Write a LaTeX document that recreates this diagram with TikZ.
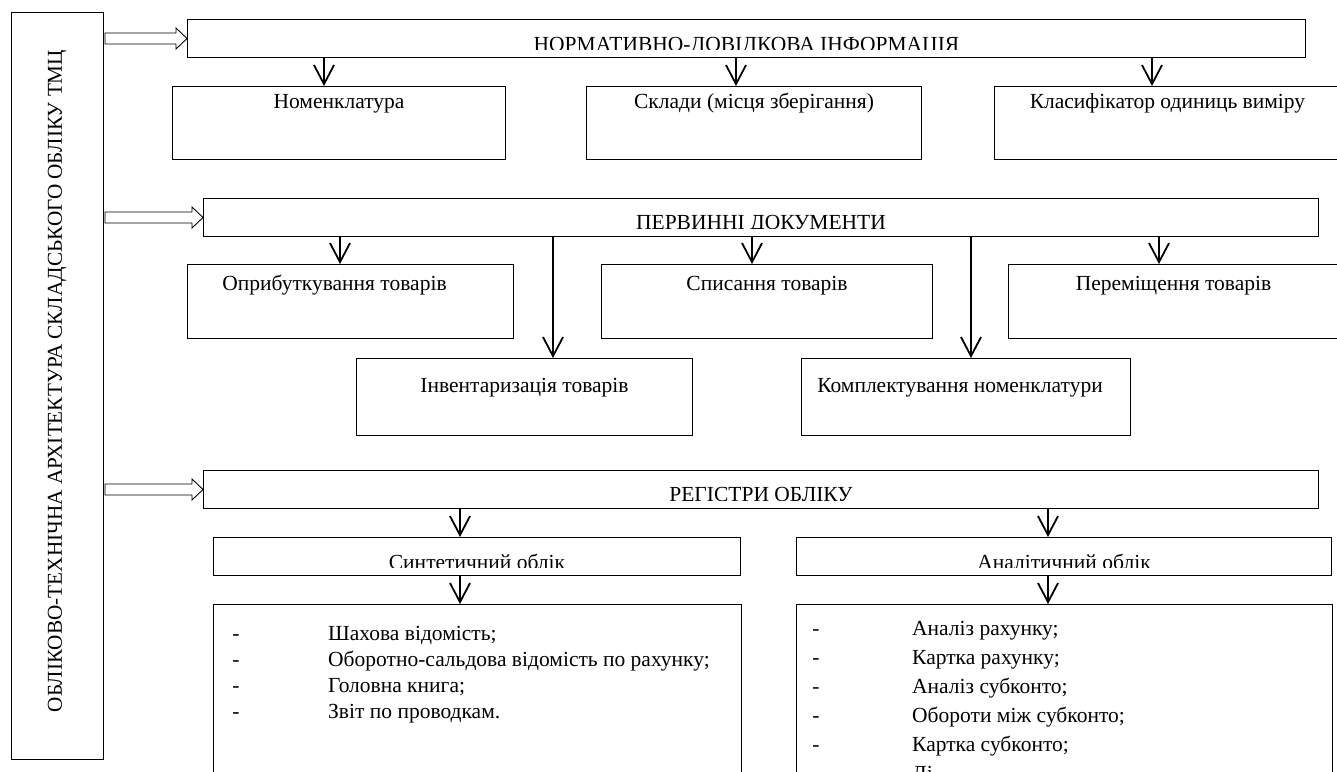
\documentclass[tikz,border=0pt]{standalone}
\usepackage{fontspec}
\setmainfont{Liberation Serif}
\usetikzlibrary{arrows.meta,calc}
\newcommand\hollowarr[2]{%
  \draw[line width=0.9pt,fill=white] let \p1=(#1), \p2=(#2) in
  (\x1,\y1+5.5pt) -- (\x2-11pt,\y1+5.5pt) -- (\x2-11pt,\y1+10.5pt) -- (\x2,\y1)
  -- (\x2-11pt,\y1-10.5pt) -- (\x2-11pt,\y1-5.5pt) -- (\x1,\y1-5.5pt) -- cycle;}
\begin{document}
\begin{tikzpicture}[x=1pt,y=-1pt,
  box/.style={draw=black,line width=1pt,inner sep=0pt,anchor=north west},
  txt/.style={font=\fontsize{21.5}{25}\selectfont,inner sep=0pt},
  arr/.style={line width=1.8pt,-{Straight Barb[length=19pt,width=20pt,line width=1.8pt]}},
]
\clip (0,0) rectangle (1337,771);
\fill[white] (0,0) rectangle (1337,771);

% left vertical box
\node[box,minimum width=92pt,minimum height=747pt] (left) at (11,12) {};
\node[txt,font=\fontsize{21.2}{25}\selectfont,rotate=90] (leftT) at (57,381) {ОБЛІКОВО-ТЕХНІЧНА АРХІТЕКТУРА СКЛАДСЬКОГО ОБЛІКУ ТМЦ};

% header boxes
\node[box,minimum width=1118pt,minimum height=38pt] (norm) at (187,19) {};
\node[box,minimum width=1115pt,minimum height=38pt] (perv) at (203,198) {};
\node[box,minimum width=1115pt,minimum height=38pt] (reg) at (203,470) {};

\begin{scope}
\clip (norm.north west) rectangle ($(norm.south east)+(0,-9)$);
\node[txt,anchor=base] (normT) at ($(norm.north)+(0,32)$) {НОРМАТИВНО-ДОВІДКОВА ІНФОРМАЦІЯ};
\end{scope}
\begin{scope}
\clip (perv.north west) rectangle ($(perv.south east)+(0,-9)$);
\node[txt,anchor=base] (pervT) at ($(perv.north)+(0,31)$) {ПЕРВИННІ ДОКУМЕНТИ};
\end{scope}
\begin{scope}
\clip (reg.north west) rectangle ($(reg.south east)+(0,-9)$);
\node[txt,anchor=base] (regT) at ($(reg.north)+(0,31)$) {РЕГІСТРИ ОБЛІКУ};
\end{scope}

% hollow arrows
\coordinate (hs1) at ($(left.east|-norm.west)+(1,0)$);
\coordinate (hs2) at ($(left.east|-perv.west)+(1,0)$);
\coordinate (hs3) at ($(left.east|-reg.west)+(1,0)$);
\hollowarr{hs1}{norm.west}
\hollowarr{hs2}{perv.west}
\hollowarr{hs3}{reg.west}

% row 1
\node[box,minimum width=333pt,minimum height=73pt] (nom) at (172,86) {};
\node[box,minimum width=335pt,minimum height=73pt] (skl) at (586,86) {};
\node[box,minimum width=346pt,minimum height=73pt] (kls) at (994,86) {};
\node[txt,anchor=base] (nomT) at ($(nom.north)+(0,22)$) {Номенклатура};
\node[txt,anchor=base] (sklT) at ($(skl.north)+(0,22)$) {Склади (місця зберігання)};
\node[txt,anchor=base] (klsT) at ($(kls.north)+(0,22)$) {Класифікатор одиниць виміру};

\coordinate (a1) at (324,0);
\coordinate (a2) at (736,0);
\coordinate (a3) at (1152,0);
\draw[arr] (norm.south-|a1) -- (nom.north-|a1);
\draw[arr] (norm.south-|a2) -- (skl.north-|a2);
\draw[arr] (norm.south-|a3) -- (kls.north-|a3);

% row 2
\node[box,minimum width=326pt,minimum height=74pt] (opr) at (187,264) {};
\node[box,minimum width=331pt,minimum height=74pt] (spy) at (601,264) {};
\node[box,minimum width=330pt,minimum height=74pt] (per) at (1008,264) {};
\node[txt,anchor=base] (oprT) at ($(opr.north)+(-16,26)$) {Оприбуткування товарів};
\node[txt,anchor=base] (spyT) at ($(spy.north)+(0,26)$) {Списання товарів};
\node[txt,anchor=base] (perT) at ($(per.north)+(0,26)$) {Переміщення товарів};

% row 3
\node[box,minimum width=336pt,minimum height=77pt] (inv) at (356,358) {};
\node[box,minimum width=329pt,minimum height=77pt] (kom) at (801,358) {};
\node[txt,anchor=base] (invT) at ($(inv.north)+(0,34)$) {Інвентаризація товарів};
\node[txt,anchor=base] (komT) at ($(kom.north)+(-6,34)$) {Комплектування номенклатури};

\coordinate (b1) at (340,0);
\coordinate (b2) at (553,0);
\coordinate (b3) at (752,0);
\coordinate (b4) at (971,0);
\coordinate (b5) at (1159,0);
\draw[arr] (perv.south-|b1) -- (opr.north-|b1);
\draw[arr] (perv.south-|b2) -- (inv.north-|b2);
\draw[arr] (perv.south-|b3) -- (spy.north-|b3);
\draw[arr] (perv.south-|b4) -- (kom.north-|b4);
\draw[arr] (perv.south-|b5) -- (per.north-|b5);

% registers
\node[box,minimum width=527pt,minimum height=38pt] (syn) at (213,537) {};
\node[box,minimum width=535pt,minimum height=38pt] (ana) at (796,537) {};
\begin{scope}
\clip (syn.north west) rectangle ($(syn.south east)+(0,-9)$);
\node[txt,anchor=base] (synT) at ($(syn.north)+(0,32)$) {Синтетичний облік};
\end{scope}
\begin{scope}
\clip (ana.north west) rectangle ($(ana.south east)+(0,-9)$);
\node[txt,anchor=base] (anaT) at ($(ana.north)+(0,32)$) {Аналітичний облік};
\end{scope}

\node[box,minimum width=528pt,minimum height=200pt] (synl) at (213,604) {};
\node[box,minimum width=536pt,minimum height=200pt] (anal) at (796,604) {};

\coordinate (c1) at (460,0);
\coordinate (c2) at (1048,0);
\draw[arr] (reg.south-|c1) -- (syn.north-|c1);
\draw[arr] (reg.south-|c2) -- (ana.north-|c2);
\draw[arr] (syn.south-|c1) -- (synl.north-|c1);
\draw[arr] (ana.south-|c2) -- (anal.north-|c2);

% synthetic list
\foreach \y/\t [count=\i] in {640/Шахова відомість;, 666/Оборотно-сальдова відомість по рахунку;, 692/Головна книга;, 718/Звіт по проводкам.}{
  \node[txt,anchor=base] (sd\i) at (236,\y) {-};
  \node[txt,anchor=base west] (st\i) at (328,\y) {\t};
}
% analytical list
\foreach \y/\t [count=\i] in {635/Аналіз рахунку;, 664/Картка рахунку;, 693/Аналіз субконто;, 722/Обороти між субконто;, 751/Картка субконто;}{
  \node[txt,anchor=base] (ad\i) at (816,\y) {-};
  \node[txt,anchor=base west] (at\i) at (912,\y) {\t};
}
\node[txt,anchor=base west] (at6) at (912,780) {Ді};
\end{tikzpicture}
\end{document}
